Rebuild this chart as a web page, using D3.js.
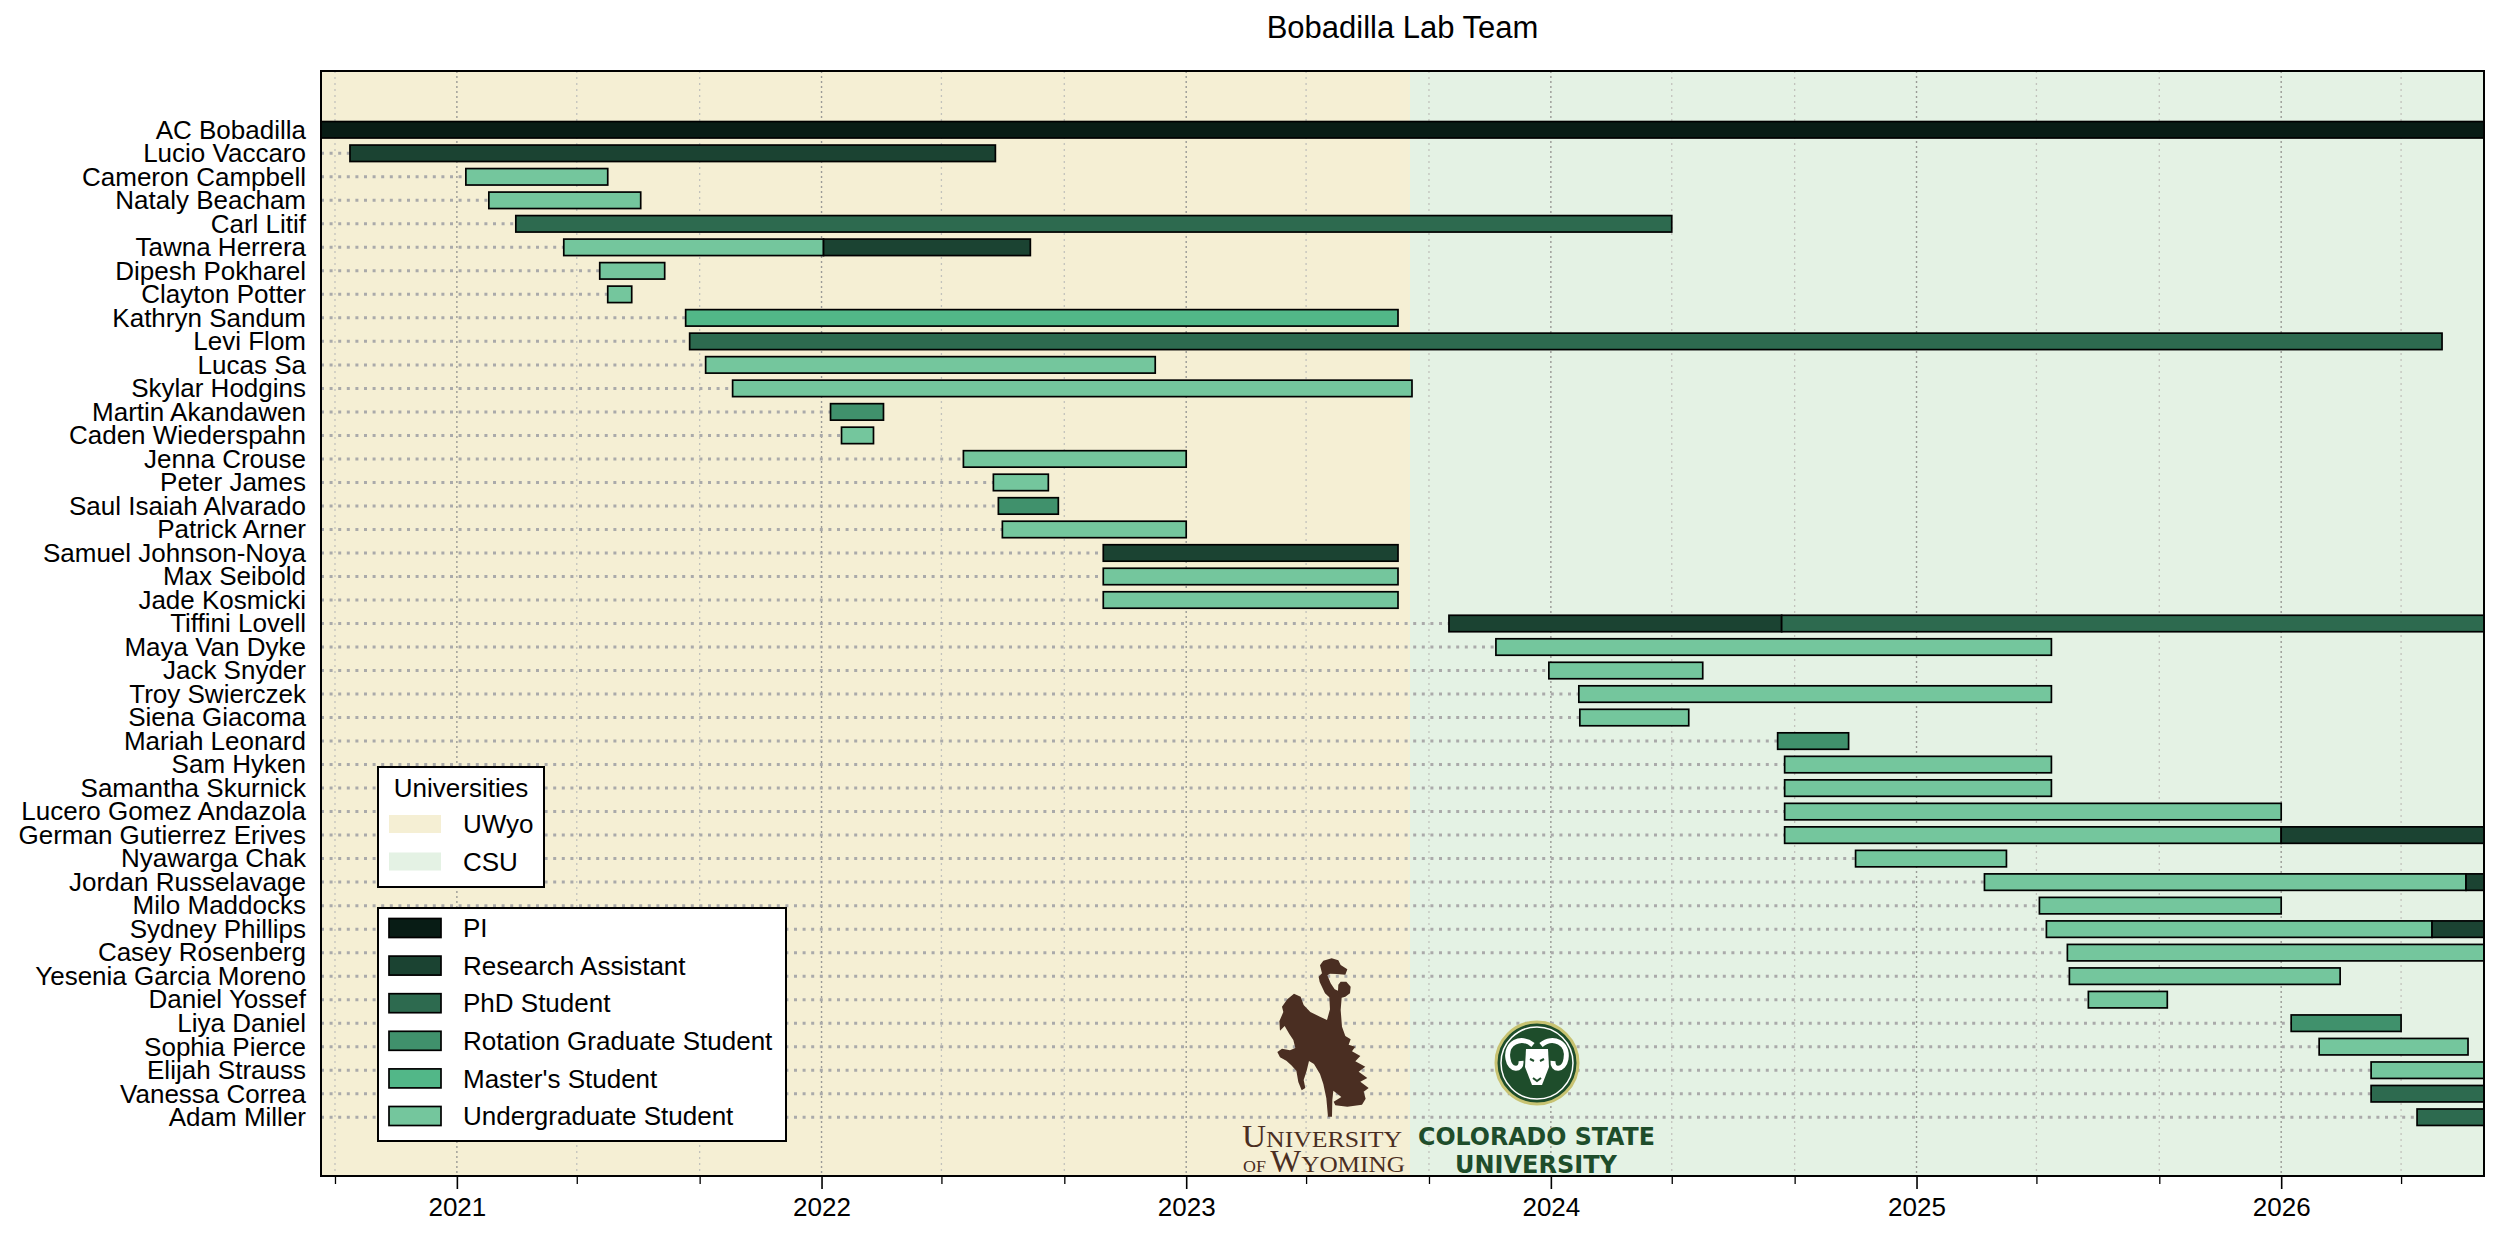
<!DOCTYPE html>
<html>
<head>
<meta charset="utf-8">
<script src="https://cdn.jsdelivr.net/npm/d3@7"></script>
<style>
  body { margin: 0; background: #fff; }
  text { font-family: "Liberation Sans", Arial, sans-serif; }
</style>
</head>
<body>
<div id="chart"></div>
<script>
// ---- data ----
const members = [
  "AC Bobadilla", "Lucio Vaccaro", "Cameron Campbell", "Nataly Beacham", "Carl Litif",
  "Tawna Herrera", "Dipesh Pokharel", "Clayton Potter", "Kathryn Sandum", "Levi Flom",
  "Lucas Sa", "Skylar Hodgins", "Martin Akandawen", "Caden Wiederspahn", "Jenna Crouse",
  "Peter James", "Saul Isaiah Alvarado", "Patrick Arner", "Samuel Johnson-Noya", "Max Seibold",
  "Jade Kosmicki", "Tiffini Lovell", "Maya Van Dyke", "Jack Snyder", "Troy Swierczek",
  "Siena Giacoma", "Mariah Leonard", "Sam Hyken", "Samantha Skurnick", "Lucero Gomez Andazola",
  "German Gutierrez Erives", "Nyawarga Chak", "Jordan Russelavage", "Milo Maddocks", "Sydney Phillips",
  "Casey Rosenberg", "Yesenia Garcia Moreno", "Daniel Yossef", "Liya Daniel", "Sophia Pierce",
  "Elijah Strauss", "Vanessa Correa", "Adam Miller"
];

const roles = ["PI", "Research Assistant", "PhD Student", "Rotation Graduate Student",
  "Master's Student", "Undergraduate Student"];
const roleColors = ["#081c15", "#1b4332", "#2d6a4f", "#40916c", "#52b788", "#74c69d"];

// [member, role, start, end]
const stints = [
  ["AC Bobadilla", "PI", "2020-08-01", "2026-08-01"],
  ["Lucio Vaccaro", "Research Assistant", "2020-09-16", "2022-06-24"],
  ["Cameron Campbell", "Undergraduate Student", "2021-01-10", "2021-06-01"],
  ["Nataly Beacham", "Undergraduate Student", "2021-02-02", "2021-07-04"],
  ["Carl Litif", "PhD Student", "2021-03-01", "2024-05-01"],
  ["Tawna Herrera", "Undergraduate Student", "2021-04-18", "2022-01-03"],
  ["Tawna Herrera", "Research Assistant", "2022-01-03", "2022-07-29"],
  ["Dipesh Pokharel", "Undergraduate Student", "2021-05-24", "2021-07-28"],
  ["Clayton Potter", "Undergraduate Student", "2021-06-01", "2021-06-25"],
  ["Kathryn Sandum", "Master's Student", "2021-08-18", "2023-08-01"],
  ["Levi Flom", "PhD Student", "2021-08-22", "2026-06-11"],
  ["Lucas Sa", "Undergraduate Student", "2021-09-07", "2022-12-01"],
  ["Skylar Hodgins", "Undergraduate Student", "2021-10-04", "2023-08-15"],
  ["Martin Akandawen", "Rotation Graduate Student", "2022-01-10", "2022-03-04"],
  ["Caden Wiederspahn", "Undergraduate Student", "2022-01-21", "2022-02-22"],
  ["Jenna Crouse", "Undergraduate Student", "2022-05-23", "2023-01-01"],
  ["Peter James", "Undergraduate Student", "2022-06-22", "2022-08-16"],
  ["Saul Isaiah Alvarado", "Rotation Graduate Student", "2022-06-27", "2022-08-26"],
  ["Patrick Arner", "Undergraduate Student", "2022-07-01", "2023-01-01"],
  ["Samuel Johnson-Noya", "Research Assistant", "2022-10-10", "2023-08-01"],
  ["Max Seibold", "Undergraduate Student", "2022-10-10", "2023-08-01"],
  ["Jade Kosmicki", "Undergraduate Student", "2022-10-10", "2023-08-01"],
  ["Tiffini Lovell", "Research Assistant", "2023-09-21", "2024-08-19"],
  ["Tiffini Lovell", "PhD Student", "2024-08-19", "2026-08-01"],
  ["Maya Van Dyke", "Undergraduate Student", "2023-11-07", "2025-05-16"],
  ["Jack Snyder", "Undergraduate Student", "2023-12-30", "2024-06-01"],
  ["Troy Swierczek", "Undergraduate Student", "2024-01-29", "2025-05-16"],
  ["Siena Giacoma", "Undergraduate Student", "2024-01-30", "2024-05-18"],
  ["Mariah Leonard", "Rotation Graduate Student", "2024-08-15", "2024-10-25"],
  ["Sam Hyken", "Undergraduate Student", "2024-08-22", "2025-05-16"],
  ["Samantha Skurnick", "Undergraduate Student", "2024-08-22", "2025-05-16"],
  ["Lucero Gomez Andazola", "Undergraduate Student", "2024-08-22", "2026-01-01"],
  ["German Gutierrez Erives", "Undergraduate Student", "2024-08-22", "2026-01-01"],
  ["German Gutierrez Erives", "Research Assistant", "2026-01-01", "2026-08-01"],
  ["Nyawarga Chak", "Undergraduate Student", "2024-11-01", "2025-04-01"],
  ["Jordan Russelavage", "Undergraduate Student", "2025-03-10", "2026-07-05"],
  ["Jordan Russelavage", "Research Assistant", "2026-07-05", "2026-08-01"],
  ["Milo Maddocks", "Undergraduate Student", "2025-05-04", "2026-01-01"],
  ["Sydney Phillips", "Undergraduate Student", "2025-05-11", "2026-06-01"],
  ["Sydney Phillips", "Research Assistant", "2026-06-01", "2026-08-01"],
  ["Casey Rosenberg", "Undergraduate Student", "2025-06-01", "2026-08-01"],
  ["Yesenia Garcia Moreno", "Undergraduate Student", "2025-06-03", "2026-03-01"],
  ["Daniel Yossef", "Undergraduate Student", "2025-06-22", "2025-09-09"],
  ["Liya Daniel", "Rotation Graduate Student", "2026-01-11", "2026-05-01"],
  ["Sophia Pierce", "Undergraduate Student", "2026-02-08", "2026-07-07"],
  ["Elijah Strauss", "Undergraduate Student", "2026-04-01", "2026-08-01"],
  ["Vanessa Correa", "PhD Student", "2026-04-01", "2026-08-01"],
  ["Adam Miller", "PhD Student", "2026-05-17", "2026-08-01"]
];

const universities = ["UWyo", "CSU"];
const uniStart = ["2020-08-01", "2023-08-13"];
const uniEnd = ["2023-08-13", "2026-08-01"];
const uniColors = ["#f5efd4", "#e4f2e4"];

const xLimits = ["2020-08-18", "2026-07-23"];

// ---- layout ----
const width = 2500,
  height = 1237,
  plotLeft = 321,
  plotRight = 2484,
  plotTop = 71,
  plotBottom = 1176;

const parse = d3.timeParse("%Y-%m-%d");

const x = d3.scaleTime().domain(xLimits.map(parse)).range([plotLeft, plotRight]);
const y = d3.scaleLinear().domain([-2.5, members.length + 1.5]).range([plotTop, plotBottom]);
const color = d3.scaleOrdinal().domain(roles).range(roleColors);
const barH = (y(1) - y(0)) * 0.7;

const svg = d3.select("#chart").append("svg")
  .attr("width", width).attr("height", height);

svg.append("defs").append("clipPath").attr("id", "plotClip")
  .append("rect").attr("x", plotLeft).attr("y", plotTop)
  .attr("width", plotRight - plotLeft).attr("height", plotBottom - plotTop);

const plot = svg.append("g").attr("clip-path", "url(#plotClip)");

// university backgrounds
plot.selectAll(".uni")
  .data(universities)
  .join("rect")
  .attr("class", "uni")
  .attr("x", (d, i) => x(parse(uniStart[i])))
  .attr("width", (d, i) => x(parse(uniEnd[i])) - x(parse(uniStart[i])))
  .attr("y", plotTop).attr("height", plotBottom - plotTop)
  .attr("fill", (d, i) => uniColors[i]);

// vertical gridlines
const majorTicks = x.ticks(d3.timeYear.every(1));
const minorTicks = x.ticks(d3.timeMonth.every(4)).filter((d) => d.getMonth() !== 0);

plot.selectAll(".minor-grid")
  .data(minorTicks)
  .join("line")
  .attr("x1", (d) => x(d)).attr("x2", (d) => x(d))
  .attr("y1", plotTop).attr("y2", plotBottom)
  .style("stroke", "#c2c2bc")
  .style("stroke-width", 1.3)
  .style("stroke-dasharray", "2,4");

plot.selectAll(".major-grid")
  .data(majorTicks)
  .join("line")
  .attr("x1", (d) => x(d)).attr("x2", (d) => x(d))
  .attr("y1", plotTop).attr("y2", plotBottom)
  .style("stroke", "#9a9a96")
  .style("stroke-width", 1.4)
  .style("stroke-dasharray", "2,3");

// leader lines from axis to first stint
const firstStart = members.map((m) =>
  d3.min(stints.filter((s) => s[0] === m), (s) => parse(s[2]))
);

plot.selectAll(".leader")
  .data(members)
  .join("line")
  .attr("x1", plotLeft)
  .attr("x2", (d, i) => x(firstStart[i]))
  .attr("y1", (d, i) => y(i)).attr("y2", (d, i) => y(i))
  .style("stroke", "#aaaaaa")
  .style("stroke-width", 3)
  .style("stroke-dasharray", "3,5.6");

// bars
plot.selectAll(".bar")
  .data(stints)
  .join("rect")
  .attr("class", "bar")
  .attr("x", (d) => x(parse(d[2])))
  .attr("width", (d) => x(parse(d[3])) - x(parse(d[2])))
  .attr("y", (d) => y(members.indexOf(d[0])) - barH / 2)
  .attr("height", barH)
  .style("fill", (d) => color(d[1]))
  .style("stroke", "#000")
  .style("stroke-width", 1.7);

// ---- logos ----
const logos = svg.append("g");

// bucking horse silhouette (drawn at 3x, scaled down)
const uw = logos.append("g").style("fill", "#4a2e22");
uw.append("path")
  .attr("transform", "translate(1270,950) scale(0.3333)")
  .attr("d", "M160,32 L185,25 L205,31 L212,45 L232,58 L226,74 L200,72 L180,71 L172,76 " +
    "L182,100 L194,118 L204,122 L205,104 L212,95 L229,95 L242,110 L240,130 L226,140 L215,143 " +
    "L212,180 L216,230 L226,258 L242,268 L236,284 L256,290 L246,304 L271,318 L256,334 " +
    "L286,350 L266,365 L292,384 L271,395 L296,414 L281,425 L287,446 L276,464 L232,470 " +
    "L196,466 L191,455 L214,441 L200,430 L190,422 L187,450 L186,500 L174,500 L169,445 " +
    "L160,402 L150,372 L132,342 L117,333 L110,362 L101,390 L106,414 L95,421 L85,396 " +
    "L79,362 L64,346 L49,332 L30,322 L22,306 L36,296 L60,301 L76,294 L70,270 L58,252 " +
    "L44,228 L30,242 L28,214 L40,186 L36,170 L52,148 L72,131 L92,140 L101,165 L121,186 " +
    "L150,200 L171,210 L180,178 L178,142 L165,130 L149,96 L146,80 L156,70 L150,46 Z");
uw.append("text")
  .attr("x", 1242).attr("y", 1147)
  .attr("textLength", 160).attr("lengthAdjust", "spacingAndGlyphs")
  .style("font-family", "'Liberation Serif', 'DejaVu Serif', serif")
  .call((t) => t.append("tspan").style("font-size", "31px").text("U"))
  .call((t) => t.append("tspan").style("font-size", "24px").text("NIVERSITY"));
uw.append("text")
  .attr("x", 1243).attr("y", 1172)
  .attr("textLength", 162).attr("lengthAdjust", "spacingAndGlyphs")
  .style("font-family", "'Liberation Serif', 'DejaVu Serif', serif")
  .call((t) => t.append("tspan").style("font-size", "17px").text("OF "))
  .call((t) => t.append("tspan").style("font-size", "31px").text("W"))
  .call((t) => t.append("tspan").style("font-size", "24px").text("YOMING"));

const csu = logos.append("g").attr("transform", "translate(1537,1063)");
csu.append("circle").attr("r", 41).style("fill", "#1e4d2b")
  .style("stroke", "#c8c372").style("stroke-width", 3);
csu.append("circle").attr("r", 36).style("fill", "none")
  .style("stroke", "#fff").style("stroke-width", 1.5);
csu.selectAll(".horn")
  .data([1, -1])
  .join("path")
  .attr("transform", (d) => `scale(${d},1)`)
  .attr("d", "M4,-18 C16,-28 32,-20 29,-4 C27,8 15,8 16,-2")
  .style("fill", "none").style("stroke", "#fff").style("stroke-width", 5);
csu.append("path")
  .attr("d", "M-11,-14 L11,-14 L12,4 L5,22 L-5,22 L-12,4 Z")
  .style("fill", "#fff");
csu.append("path")
  .attr("d", "M-7,-4 L-3,-2 M7,-4 L3,-2 M-4,15 L0,18 L4,15")
  .style("fill", "none").style("stroke", "#1e4d2b").style("stroke-width", 2);

logos.append("text")
  .attr("x", 1418).attr("y", 1145)
  .attr("textLength", 237).attr("lengthAdjust", "spacingAndGlyphs")
  .style("font-family", "'DejaVu Sans', sans-serif")
  .style("font-weight", "bold").style("font-size", "25px")
  .style("fill", "#1e4d2b")
  .text("COLORADO STATE");
logos.append("text")
  .attr("x", 1455).attr("y", 1173)
  .attr("textLength", 162).attr("lengthAdjust", "spacingAndGlyphs")
  .style("font-family", "'DejaVu Sans', sans-serif")
  .style("font-weight", "bold").style("font-size", "25px")
  .style("fill", "#1e4d2b")
  .text("UNIVERSITY");

// ---- axes ----
const xAxis = svg.append("g")
  .attr("transform", `translate(0,${plotBottom})`)
  .call(d3.axisBottom(x).tickValues(majorTicks).tickFormat(d3.timeFormat("%Y"))
    .tickSize(13).tickPadding(9))
  .call((g) => g.select(".domain").remove());
xAxis.selectAll("line").style("stroke-width", 1.6);
xAxis.selectAll("text").style("font-size", "26px").style("fill", "#000");

svg.append("g")
  .attr("transform", `translate(0,${plotBottom})`)
  .call(d3.axisBottom(x).tickValues(minorTicks).tickFormat("").tickSize(8))
  .call((g) => g.select(".domain").remove())
  .selectAll("line").style("stroke-width", 1.3);

const yAxis = svg.append("g")
  .attr("transform", `translate(${plotLeft},0)`)
  .call(d3.axisLeft(y).tickValues(d3.range(members.length))
    .tickFormat((i) => members[i]).tickSize(0).tickPadding(15))
  .call((g) => g.select(".domain").remove());
yAxis.selectAll("text").style("font-size", "26px").style("fill", "#000");

// frame
svg.append("rect")
  .attr("x", plotLeft).attr("y", plotTop)
  .attr("width", plotRight - plotLeft).attr("height", plotBottom - plotTop)
  .style("fill", "none").style("stroke", "#000").style("stroke-width", 2);

// title
svg.append("text")
  .attr("x", (plotLeft + plotRight) / 2).attr("y", 38)
  .attr("text-anchor", "middle")
  .style("font-size", "31px")
  .text("Bobadilla Lab Team");

// ---- legends ----
const legUni = svg.append("g");
legUni.append("rect")
  .attr("x", 378).attr("y", 767).attr("width", 166).attr("height", 120)
  .style("fill", "#fff").style("stroke", "#000").style("stroke-width", 2);
legUni.append("text")
  .attr("x", 461).attr("y", 788).attr("dy", "0.35em")
  .attr("text-anchor", "middle").style("font-size", "26px")
  .text("Universities");
const uniItem = legUni.selectAll(".item")
  .data(universities)
  .join("g")
  .attr("transform", (d, i) => `translate(389,${824 + i * 37.5})`);
uniItem.append("rect")
  .attr("y", -9).attr("width", 52).attr("height", 18)
  .style("fill", (d, i) => uniColors[i]);
uniItem.append("text")
  .attr("x", 74).attr("dy", "0.35em").style("font-size", "26px")
  .text((d) => d);

const legRole = svg.append("g");
legRole.append("rect")
  .attr("x", 378).attr("y", 908).attr("width", 408).attr("height", 233)
  .style("fill", "#fff").style("stroke", "#000").style("stroke-width", 2);
const roleItem = legRole.selectAll(".item")
  .data(roles)
  .join("g")
  .attr("transform", (d, i) => `translate(389,${928 + i * 37.6})`);
roleItem.append("rect")
  .attr("y", -9.5).attr("width", 52).attr("height", 19)
  .style("fill", (d) => color(d))
  .style("stroke", "#000").style("stroke-width", 1.7);
roleItem.append("text")
  .attr("x", 74).attr("dy", "0.35em").style("font-size", "26px")
  .text((d) => d);
</script>
</body>
</html>
